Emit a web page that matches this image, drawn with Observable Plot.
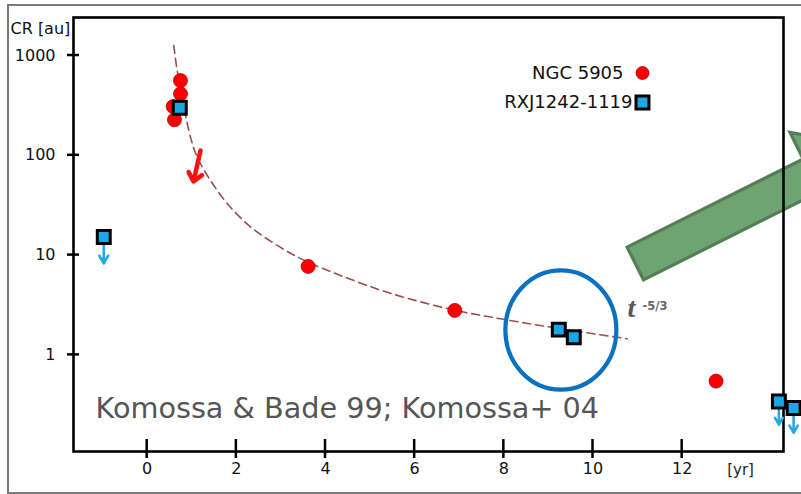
<!DOCTYPE html>
<html><head><meta charset="utf-8">
<script src="https://cdn.jsdelivr.net/npm/d3@7"></script>
<script src="https://cdn.jsdelivr.net/npm/@observablehq/plot@0.6"></script>
<style>
html,body{margin:0;padding:0;background:#fff;overflow:hidden;width:801px;height:494px;}
#wrap{position:relative;width:801px;height:494px;overflow:hidden;}
#chart svg{display:block;}
#border{position:absolute;left:7px;top:4px;width:900px;height:486px;border:2px solid #7a7a7a;pointer-events:none;}
</style></head><body>
<div id="wrap"><div id="chart"></div><div id="border"></div></div>
<script>
// ---- data (time in years, count rate in au) ----
const ngcTime = [0.747, 0.747, 0.583, 0.612, 3.61, 6.90, 12.76];
const ngcRate = [561, 413, 308, 227, 7.7, 2.79, 0.546];
// NGC 5905 upper limit (arrow start / tip)
const ngcLimitTime = [1.196];
const ngcLimitRate = [111.7];
const ngcLimitTipTime = [1.039];
const ngcLimitTipRate = [54.6];

const rxjTime = [0.731, 9.233, 9.569];
const rxjRate = [299, 1.79, 1.50];
// RXJ1242-1119 upper limits
const rxjLimitTime = [-0.974, 14.17, 14.50];
const rxjLimitRate = [15.2, 0.341, 0.293];
const rxjLimitTip = [8.26, 0.20, 0.166];

// dashed t^-5/3 curve
const fitTime = [0.597, 0.673, 0.971, 1.122, 1.42, 1.795, 2.317, 2.916, 3.513, 4.336, 5.458, 6.878, 8.075, 9.197, 10.77];
const fitRate = [1259, 708, 152, 96, 56, 32.9, 19.2, 12.5, 8.9, 6.25, 4.14, 2.82, 2.24, 1.85, 1.45];

const xTicks = [0, 2, 4, 6, 8, 10, 12];
const yTicks = [1, 10, 100, 1000];
const legendNames = ["NGC 5905", "RXJ1242-1119"];

// ---- tables ----
const ngc = ngcTime.map((t, i) => ({t, rate: ngcRate[i]}));
const ngcLim = ngcLimitTime.map((t, i) => ({t, rate: ngcLimitRate[i], t2: ngcLimitTipTime[i], tip: ngcLimitTipRate[i]}));
const rxj = rxjTime.map((t, i) => ({t, rate: rxjRate[i]}));
const rxjLim = rxjLimitTime.map((t, i) => ({t, rate: rxjLimitRate[i], tip: rxjLimitTip[i]}));
const rxjAll = rxj.concat(rxjLim);
const fit = fitTime.map((t, i) => ({t, rate: fitRate[i]}));

// annotation anchors (data space)
const circleAt = {t: 9.29, rate: 1.756};
const bigArrowAt = {t: 10.96, rate: 8.15};
const legendAt = {t: 11.11, rate: [668, 338]};
const labelAt = {t: 10.774, rate: 2.95};

const FONT = "DejaVu Sans, sans-serif";
const W = 801, H = 494, mL = 73, mR = 18, mT = 17, mB = 43;

function ticksMark(index, scales) {
  const g = d3.create("svg:g").attr("stroke", "#000").attr("stroke-width", 2.5);
  const yb = H - mB;
  for (const t of xTicks) {
    const x = scales.x(t);
    g.append("line").attr("x1", x).attr("x2", x).attr("y1", yb - 12).attr("y2", yb + 7);
  }
  for (const v of yTicks) {
    const y = scales.y(v);
    g.append("line").attr("x1", mL - 6).attr("x2", mL + 6).attr("y1", y).attr("y2", y);
  }
  return g.node();
}

function ellipseMark(index, scales) {
  const g = d3.create("svg:g");
  g.append("ellipse")
    .attr("cx", scales.x(circleAt.t)).attr("cy", scales.y(circleAt.rate))
    .attr("rx", 55.5).attr("ry", 59.7)
    .attr("fill", "none").attr("stroke", "#0a70c0").attr("stroke-width", 4.2);
  return g.node();
}

function greenArrowMark(index, scales) {
  const cx = scales.x(bigArrowAt.t), cy = scales.y(bigArrowAt.rate);
  const u = [0.894, -0.447], n = [0.447, 0.894];
  const hw = 18.3, wing = 48, base = 197, tip = 262;
  const pts = [[0, -hw], [base, -hw], [base, -wing], [tip, 0], [base, wing], [base, hw], [0, hw]]
    .map(([a, b]) => [cx + a * u[0] + b * n[0], cy + a * u[1] + b * n[1]]);
  const g = d3.create("svg:g");
  g.append("path")
    .attr("d", "M" + pts.map(p => p.join(",")).join("L") + "Z")
    .attr("fill", "#70a373").attr("stroke", "#527f55").attr("stroke-width", 3.2)
    .attr("stroke-linejoin", "miter");
  return g.node();
}

const chart = Plot.plot({
  width: W, height: H,
  marginLeft: mL, marginRight: mR, marginTop: mT, marginBottom: mB,
  x: {domain: [-1.653, 14.273]},
  y: {type: "log", domain: [0.1076, 2404]},
  style: {fontFamily: FONT, background: "transparent", overflow: "visible"},
  marks: [
    greenArrowMark,
    Plot.frame({stroke: "#000", strokeWidth: 2.6}),
    ticksMark,
    Plot.axisX(xTicks, {tickSize: 0, tickPadding: 11, tickFormat: d => String(d), label: null, fontSize: 16, fill: "#111"}),
    Plot.axisY(yTicks, {tickSize: 0, tickPadding: 18, tickFormat: d => String(d), label: null, fontSize: 16, fill: "#111"}),
    Plot.line(fit, {x: "t", y: "rate", stroke: "#a34c4c", strokeWidth: 1.6, strokeDasharray: "8,5", curve: "catmull-rom"}),
    ellipseMark,
    Plot.arrow(rxjLim, {x1: "t", x2: "t", y1: "rate", y2: "tip", stroke: "#27a9e1", strokeWidth: 2.6, headLength: 9}),
    Plot.arrow(ngcLim, {x1: "t", y1: "rate", x2: "t2", y2: "tip", stroke: "#ff1010", strokeWidth: 4.5, headLength: 15, headAngle: 80}),
    Plot.dot(ngc, {x: "t", y: "rate", r: 7, fill: "#ff0000", stroke: "#b00000", strokeWidth: 0.8}),
    Plot.dot(rxjAll, {x: "t", y: "rate", symbol: "square", r: 7.3, fill: "#1ba6e6", stroke: "#000", strokeWidth: 3}),
    // legend
    Plot.dot([legendNames[0]], {x: () => legendAt.t, y: () => legendAt.rate[0], r: 6.5, fill: "#ff0000", stroke: "#b00000", strokeWidth: 0.8}),
    Plot.dot([legendNames[1]], {x: () => legendAt.t, y: () => legendAt.rate[1], symbol: "square", r: 7.3, fill: "#1ba6e6", stroke: "#000", strokeWidth: 3}),
    Plot.text([legendNames[0]], {x: () => legendAt.t, y: () => legendAt.rate[0], text: d => d, dx: -19, textAnchor: "end", fontSize: 18, fill: "#111"}),
    Plot.text([legendNames[1]], {x: () => legendAt.t, y: () => legendAt.rate[1], text: d => d, dx: -10, textAnchor: "end", fontSize: 18, fill: "#111"}),
    // labels
    Plot.text(["CR [au]"], {frameAnchor: "top-left", text: d => d, dx: -63, dy: 5, lineAnchor: "top", textAnchor: "start", fontSize: 16, fill: "#111"}),
    Plot.text(["[yr]"], {x: () => 13.31, frameAnchor: "bottom", text: d => d, dy: 19, lineAnchor: "middle", fontSize: 15, fill: "#222"}),
    Plot.text(["Komossa & Bade 99; Komossa+ 04"], {frameAnchor: "bottom-left", text: d => d, dx: 22, dy: -43, lineAnchor: "middle", textAnchor: "start", fontSize: 28.7, fill: "#555"}),
    Plot.text(["t"], {x: () => labelAt.t, y: () => labelAt.rate, text: d => d, textAnchor: "start", lineAnchor: "middle", fontSize: 28, fontFamily: "Liberation Serif", fontWeight: "bold", fontStyle: "italic", fill: "#595959"}),
    Plot.text(["-5/3"], {x: () => labelAt.t, y: () => labelAt.rate, text: d => d, dx: 15, dy: -2, textAnchor: "start", lineAnchor: "middle", fontSize: 11.5, fontWeight: "bold", fill: "#666"})
  ]
});
document.getElementById("chart").appendChild(chart);
</script>
</body></html>
